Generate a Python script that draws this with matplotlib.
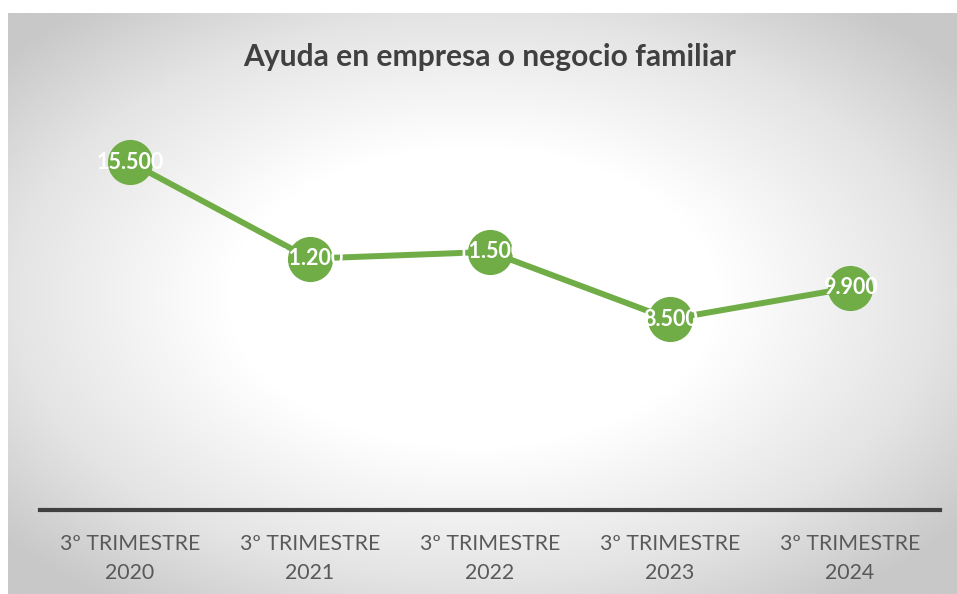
import numpy as np
import matplotlib.pyplot as plt
from matplotlib.colors import LinearSegmentedColormap

categories = ["3º TRIMESTRE\n2020", "3º TRIMESTRE\n2021", "3º TRIMESTRE\n2022",
              "3º TRIMESTRE\n2023", "3º TRIMESTRE\n2024"]
values = [15500, 11200, 11500, 8500, 9900]
title = "Ayuda en empresa o negocio familiar"

GREEN = "#70AD47"
TEXT = "#595959"

plt.rcParams["font.family"] = ["Lato", "DejaVu Sans"]

fig = plt.figure(figsize=(9.57, 5.94), dpi=100)

# chart area background: radial gradient, white in the middle, grey at the edges
bg = fig.add_axes([8 / 957, 0, 949 / 957, 1 - 13 / 594])
bg.set_axis_off()
gx, gy = np.meshgrid(np.linspace(-1, 1, 400), np.linspace(-1, 1, 300))
r = np.clip(np.sqrt((gx + 0.02) ** 2 + (gy + 0.02) ** 2) / 1.3, 0, 1)
cmap = LinearSegmentedColormap.from_list(
    "bg", [(0, "#ffffff"), (0.4, "#ffffff"), (0.75, "#e4e4e4"), (1, "#c8c8c8")], N=256)
bg.imshow(r, cmap=cmap, aspect="auto", extent=[0, 1, 0, 1], vmin=0, vmax=1, interpolation="bilinear")
bg.set_xlim(0, 1)
bg.set_ylim(0, 1)

ax = fig.add_axes([40 / 957, 1 - 510 / 594, 900 / 957, (510 - 106) / 594])
ax.patch.set_alpha(0)
x = np.arange(len(values))
ax.plot(x, values, color=GREEN, lw=4.3, solid_capstyle="round", zorder=2)
ax.plot(x, values, "o", ms=31.5, color=GREEN, mec=GREEN, zorder=3)
for xi, v in zip(x, values):
    ax.text(xi, v, f"{v:,}".replace(",", "."), color="white", fontsize=15.5,
            fontweight="bold", ha="center", va="center", zorder=4)

ax.set_xlim(-0.5, len(values) - 0.5)
ax.set_ylim(0, 18000)
ax.set_yticks([])
ax.set_xticks(x)
ax.set_xticklabels(categories, fontsize=15.3, color=TEXT, linespacing=1.6)
ax.tick_params(axis="x", length=0, pad=17)
for s in ["top", "right", "left"]:
    ax.spines[s].set_visible(False)
ax.spines["bottom"].set_color("#404040")
ax.spines["bottom"].set_linewidth(3)

fig.text(490 / 957, 1 - 57 / 594, title, ha="center", va="center",
         fontsize=21.6, fontweight="bold", color="#404040")

fig.savefig("out.png", dpi=100)
